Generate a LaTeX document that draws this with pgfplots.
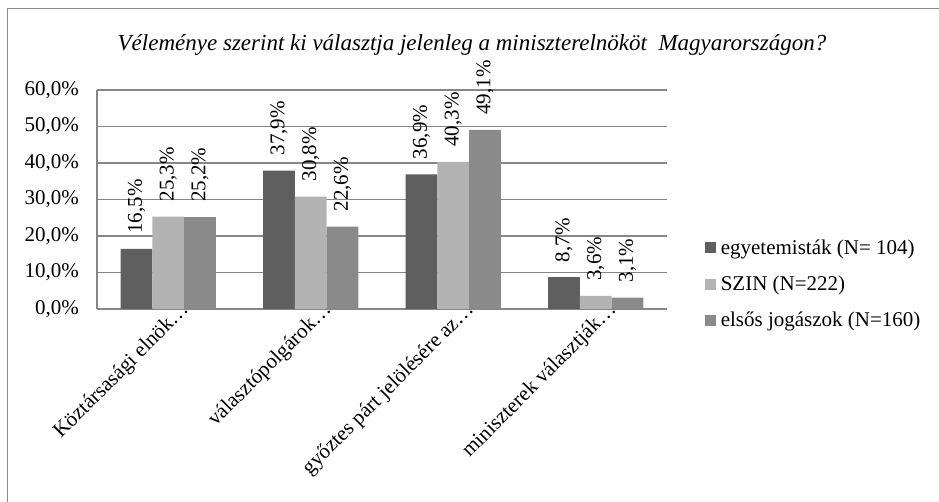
\documentclass[border=0pt]{standalone}
\usepackage{fontspec}
\setmainfont{Liberation Serif}
\usepackage{pgfplots}
\pgfplotsset{compat=1.18}
\definecolor{cA}{HTML}{5F5F5F}
\definecolor{cB}{HTML}{B3B3B3}
\definecolor{cC}{HTML}{8A8A8A}
\definecolor{gridc}{HTML}{868686}
\definecolor{borderc}{HTML}{8C8C8C}
\pgfkeys{/pgf/number format/assume math mode=true}
\newcommand{\fs}{\fontsize{21}{24}\selectfont}
\begin{document}
\begin{tikzpicture}[x=1pt,y=1pt]
\useasboundingbox (0,0) rectangle (939,502);
\draw[borderc, line width=1pt] (7.5,0) -- (7.5,493) -- (940,493);
\node[font=\fontsize{23}{26}\selectfont\itshape] at (472,457) {Véleménye szerint ki választja jelenleg a miniszterelnököt \ Magyarországon?};
\begin{axis}[
  at={(97pt,193pt)}, anchor=south west,
  scale only axis, width=570pt, height=219pt,
  ybar=0pt, bar width=31.7pt,
  xmin=-0.5, xmax=3.5, ymin=0, ymax=60,
  ytick={0,10,20,30,40,50,60},
  xtick={0,1,2,3},
  xticklabels={Köztársasági elnök…, választópolgárok…, győztes párt jelölésére az…, miniszterek választják…},
  xticklabel style={font=\fs, rotate=45, anchor=east, inner sep=0pt, xshift=14pt, yshift=-11pt},
  yticklabel={\pgfmathprintnumber[fixed,fixed zerofill,precision=1,use comma]{\tick}\%},
  yticklabel style={font=\fs, inner sep=0pt, xshift=-18pt},
  major tick length=0pt,
  axis lines*=left,
  axis line style={gridc, line width=1.5pt},
  ymajorgrids, grid style={gridc, line width=1.5pt},
  clip=false,
  nodes near coords={\pgfmathprintnumber[fixed,fixed zerofill,precision=1,use comma]{\pgfplotspointmeta}\%},
  every node near coord/.append style={font=\fs, rotate=90, anchor=west, inner xsep=15pt, inner ysep=0pt, text=black},
  legend style={draw=none, fill=none, at={(1.066,0.114)}, anchor=west, font=\fs, row sep=16pt, inner sep=0pt,
    /tikz/every odd column/.append style={column sep=3pt}},
  legend cell align=left,
  legend image code/.code={\fill[#1] (0pt,-5.5pt) rectangle (11pt,5.5pt);},
]
\addplot[draw=none, fill=cA] coordinates {(0,16.5) (1,37.9) (2,36.9) (3,8.7)};
\addplot[draw=none, fill=cB] coordinates {(0,25.3) (1,30.8) (2,40.3) (3,3.6)};
\addplot[draw=none, fill=cC] coordinates {(0,25.2) (1,22.6) (2,49.1) (3,3.1)};
\legend{egyetemisták (N= 104), SZIN (N=222), elsős jogászok (N=160)}
\end{axis}
\end{tikzpicture}
\end{document}
